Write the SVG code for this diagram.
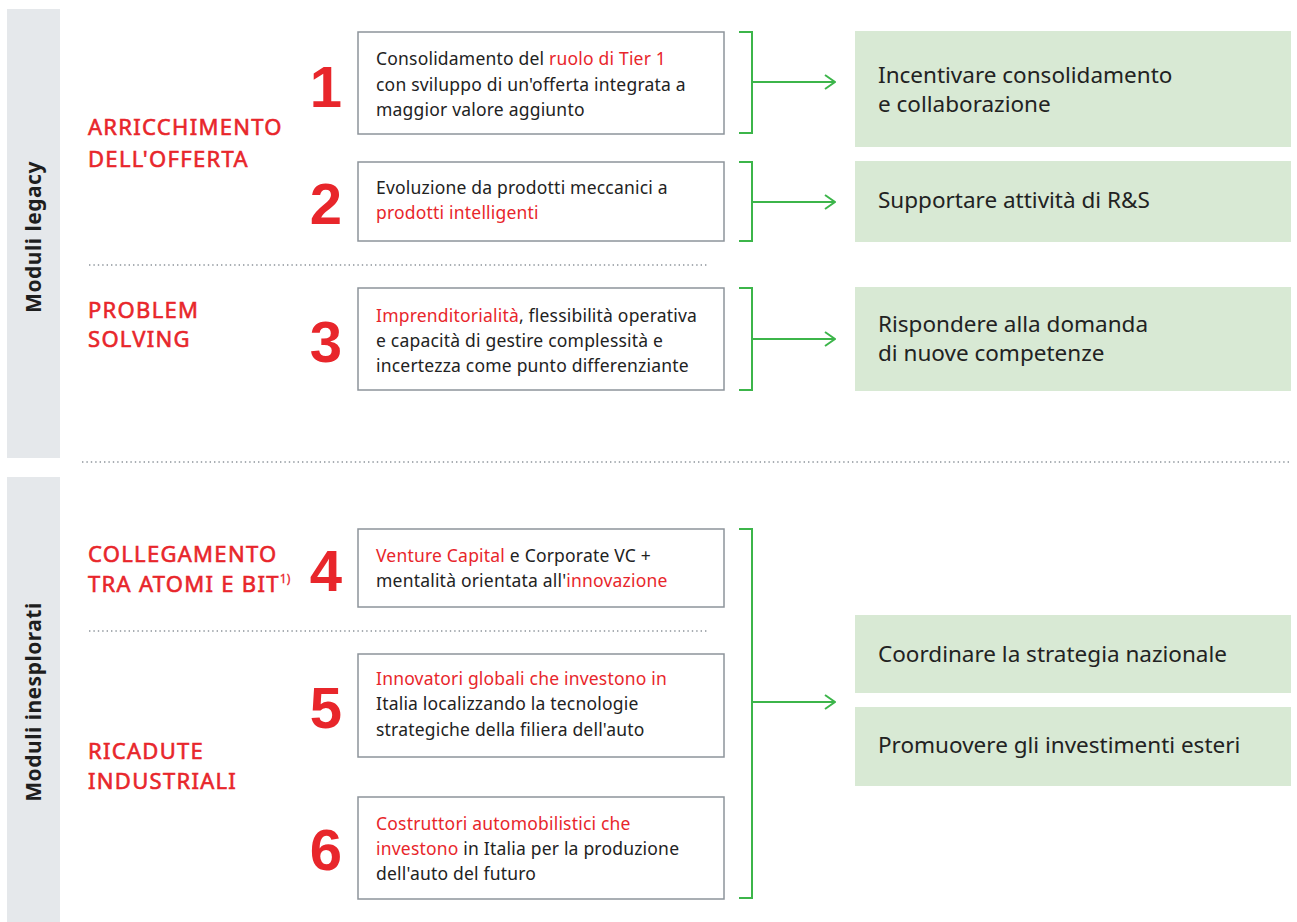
<svg xmlns="http://www.w3.org/2000/svg" width="1297" height="922" viewBox="0 0 1297 922">
<defs>
<style>
.side{fill:#e5e8eb}
.sidelbl{font-family:"Noto Sans",sans-serif;font-weight:700;font-size:21px;letter-spacing:0.5px;fill:#1e1e1e}
.head{font-family:"Noto Sans",sans-serif;font-weight:400;font-size:22px;letter-spacing:1.3px;fill:#e8262b;stroke:#e8262b;stroke-width:0.6}
.num{font-family:"Liberation Sans",Arial,sans-serif;font-weight:700;font-size:58px;fill:#e8262b}
.box{fill:#fff;stroke:#8d949b;stroke-width:1.5}
.bt{font-family:"Noto Sans",sans-serif;font-size:17.5px;letter-spacing:0.2px;fill:#222}
.r{fill:#e8262b}
.gbox{fill:#d8e9d4}
.gt{font-family:"Noto Sans",sans-serif;font-size:22.5px;fill:#222}
.dot{stroke:#8d949b;stroke-width:1.6;stroke-dasharray:1.4 3;fill:none}
.con{stroke:#3cb54a;stroke-width:2;fill:none}
</style>
<marker id="arr" viewBox="0 0 12 16" refX="11" refY="8" markerWidth="12" markerHeight="16" markerUnits="userSpaceOnUse" orient="auto">
<path d="M1,1 L11,8 L1,15" fill="none" stroke="#3cb54a" stroke-width="2"/>
</marker>
</defs>
<rect width="1297" height="922" fill="#fff"/>

<g id="side-legacy">
<rect class="side" x="7" y="9" width="53" height="449"/>
<text class="sidelbl" transform="translate(41,237) rotate(-90)" text-anchor="middle">Moduli legacy</text>
</g>
<g id="side-inesplorati">
<rect class="side" x="7" y="477" width="53" height="445"/>
<text class="sidelbl" transform="translate(41,702) rotate(-90)" text-anchor="middle">Moduli inesplorati</text>
</g>

<g id="separators">
<line class="dot" x1="89" y1="265" x2="708" y2="265"/>
<line class="dot" x1="82" y1="462" x2="1291" y2="462"/>
<line class="dot" x1="89" y1="631" x2="708" y2="631"/>
</g>

<g id="head-arricchimento">
<text class="head" x="88" y="135">ARRICCHIMENTO</text>
<text class="head" x="88" y="167">DELL'OFFERTA</text>
</g>
<g id="head-problem">
<text class="head" x="88" y="318">PROBLEM</text>
<text class="head" x="88" y="347">SOLVING</text>
</g>
<g id="head-collegamento">
<text class="head" x="88" y="562">COLLEGAMENTO</text>
<text class="head" x="88" y="592">TRA ATOMI E BIT<tspan font-size="12" dy="-9" letter-spacing="0" stroke-width="0.3">1)</tspan></text>
</g>
<g id="head-ricadute">
<text class="head" x="88" y="759">RICADUTE</text>
<text class="head" x="88" y="789">INDUSTRIALI</text>
</g>

<g id="node-1">
<text class="num" x="326" y="107" text-anchor="middle">1</text>
<rect class="box" x="358" y="32" width="366" height="102"/>
<text class="bt" x="376" y="65">Consolidamento del <tspan class="r">ruolo di Tier 1</tspan></text>
<text class="bt" x="376" y="91">con sviluppo di un'offerta integrata a</text>
<text class="bt" x="376" y="116">maggior valore aggiunto</text>
</g>
<g id="node-2">
<text class="num" x="326" y="224" text-anchor="middle">2</text>
<rect class="box" x="358" y="162" width="366" height="79"/>
<text class="bt" x="376" y="194">Evoluzione da prodotti meccanici a</text>
<text class="bt" x="376" y="219"><tspan class="r">prodotti intelligenti</tspan></text>
</g>
<g id="node-3">
<text class="num" x="326" y="362" text-anchor="middle">3</text>
<rect class="box" x="358" y="288" width="366" height="102"/>
<text class="bt" x="376" y="322"><tspan class="r">Imprenditorialità</tspan>, flessibilità operativa</text>
<text class="bt" x="376" y="347">e capacità di gestire complessità e</text>
<text class="bt" x="376" y="372">incertezza come punto differenziante</text>
</g>
<g id="node-4">
<text class="num" x="326" y="591" text-anchor="middle">4</text>
<rect class="box" x="358" y="529" width="366" height="78"/>
<text class="bt" x="376" y="562"><tspan class="r">Venture Capital</tspan> e Corporate VC +</text>
<text class="bt" x="376" y="587">mentalità orientata all'<tspan class="r">innovazione</tspan></text>
</g>
<g id="node-5">
<text class="num" x="326" y="728" text-anchor="middle">5</text>
<rect class="box" x="358" y="654" width="366" height="103"/>
<text class="bt" x="376" y="685"><tspan class="r">Innovatori globali che investono in</tspan></text>
<text class="bt" x="376" y="710">Italia localizzando la tecnologie</text>
<text class="bt" x="376" y="736">strategiche della filiera dell'auto</text>
</g>
<g id="node-6">
<text class="num" x="326" y="870" text-anchor="middle">6</text>
<rect class="box" x="358" y="797" width="366" height="102"/>
<text class="bt" x="376" y="830"><tspan class="r">Costruttori automobilistici che</tspan></text>
<text class="bt" x="376" y="855"><tspan class="r">investono</tspan> in Italia per la produzione</text>
<text class="bt" x="376" y="880">dell'auto del futuro</text>
</g>

<g id="goal-1">
<rect class="gbox" x="855" y="31" width="436" height="116"/>
<text class="gt" x="878" y="83">Incentivare consolidamento</text>
<text class="gt" x="878" y="112">e collaborazione</text>
</g>
<g id="goal-2">
<rect class="gbox" x="855" y="161" width="436" height="81"/>
<text class="gt" x="878" y="208">Supportare attività di R&amp;S</text>
</g>
<g id="goal-3">
<rect class="gbox" x="855" y="287" width="436" height="104"/>
<text class="gt" x="878" y="332">Rispondere alla domanda</text>
<text class="gt" x="878" y="361">di nuove competenze</text>
</g>
<g id="goal-4">
<rect class="gbox" x="855" y="615" width="436" height="78"/>
<text class="gt" x="878" y="662">Coordinare la strategia nazionale</text>
</g>
<g id="goal-5">
<rect class="gbox" x="855" y="707" width="436" height="79"/>
<text class="gt" x="878" y="753">Promuovere gli investimenti esteri</text>
</g>

<g id="connectors">
<path class="con" d="M739,32 H752 V133 H739"/>
<line class="con" x1="752" y1="82" x2="835" y2="82" marker-end="url(#arr)"/>
<path class="con" d="M739,162 H752 V241 H739"/>
<line class="con" x1="752" y1="202" x2="835" y2="202" marker-end="url(#arr)"/>
<path class="con" d="M739,288 H752 V390 H739"/>
<line class="con" x1="752" y1="339" x2="835" y2="339" marker-end="url(#arr)"/>
<path class="con" d="M739,529 H752 V898 H739"/>
<line class="con" x1="752" y1="702" x2="835" y2="702" marker-end="url(#arr)"/>
</g>
</svg>
